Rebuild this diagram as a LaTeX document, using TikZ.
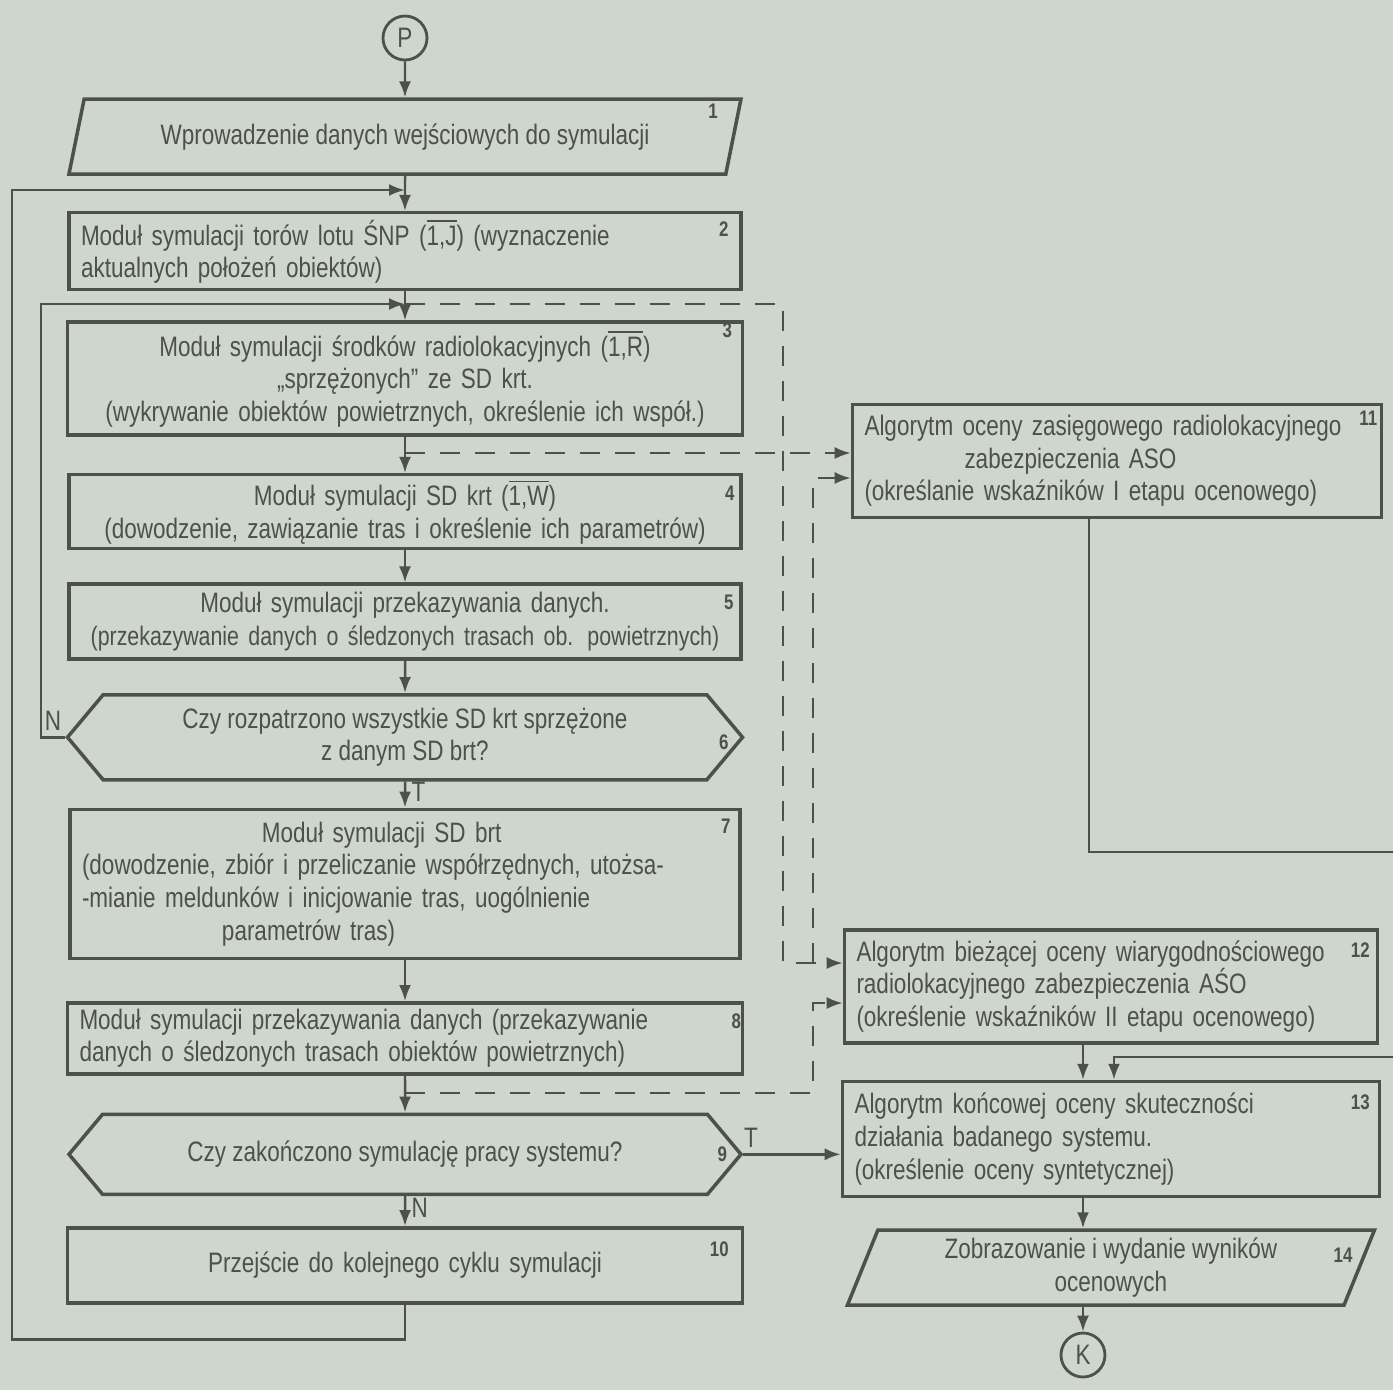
\documentclass[tikz,border=0pt]{standalone}
\usepackage{fontspec}
\setmainfont{Liberation Sans}[FakeStretch=0.8]
\usetikzlibrary{arrows.meta, positioning, shapes.geometric, shapes.symbols}
\definecolor{papier}{RGB}{206,214,206}
\definecolor{tusz}{RGB}{78,80,76}

\begin{document}
\begin{tikzpicture}[
    blok/.style={rectangle, draw=tusz, line width=1pt, inner xsep=0.12cm, inner ysep=0.03cm,
      font=\fontsize{8}{9.3}\selectfont, text=tusz, align=center},
    wej/.style={trapezium, trapezium left angle=65, trapezium right angle=115,
      trapezium stretches body, draw=tusz, line width=1pt, inner ysep=0.03cm,
      font=\fontsize{8}{9.3}\selectfont, text=tusz, align=center},
    decyzja/.style={signal, signal to=west and east, signal pointer angle=100,
      draw=tusz, line width=1pt, inner ysep=0.03cm,
      font=\fontsize{8}{9.3}\selectfont, text=tusz, align=center},
    konn/.style={circle, draw=tusz, line width=0.8pt, minimum size=0.44cm, inner sep=0pt,
      font=\fontsize{8}{9}\selectfont, text=tusz},
    nr/.style={font=\fontsize{6}{7}\selectfont\bfseries, text=tusz, inner sep=0pt},
    etyk/.style={font=\fontsize{8}{9}\selectfont, text=tusz, inner sep=1.5pt},
    lin/.style={draw=tusz, line width=0.7pt},
    arr/.style={lin, -{Latex[length=1.6mm, width=1.2mm]}},
    przer/.style={arr, dash pattern=on 0.2cm off 0.15cm}]
    \fill[papier] (0,0) rectangle (13.93,-13.90);
    \useasboundingbox (0,0) rectangle (13.93,-13.90);
    % kolumna glowna
    \node[konn](p) at (4.05,-0.38){P};
    \node[wej, minimum width=6.72cm, minimum height=0.75cm, below=0.36cm of p](b1)
      {Wprowadzenie danych wejściowych do symulacji};
    \node[blok, text width=6.48cm, align=left, minimum height=0.77cm, below=0.35cm of b1](b2)
      {Moduł symulacji torów lotu ŚNP ($\overline{\mbox{1,J}}$) (wyznaczenie\\aktualnych położeń obiektów)};
    \node[blok, text width=6.51cm, minimum height=1.13cm, below=0.29cm of b2](b3)
      {Moduł symulacji środków radiolokacyjnych ($\overline{\mbox{1,R}}$)\\„sprzężonych” ze SD krt.\\(wykrywanie obiektów powietrznych, określenie ich współ.)};
    \node[blok, text width=6.48cm, minimum height=0.74cm, below=0.36cm of b3](b4)
      {Moduł symulacji SD krt ($\overline{\mbox{1,W}}$)\\(dowodzenie, zawiązanie tras i określenie ich parametrów)};
    \node[blok, text width=6.62cm, inner xsep=0.05cm, minimum height=0.75cm, below=0.32cm of b4](b5)
      {Moduł symulacji przekazywania danych.\\{\fontsize{7.6}{9.3}\selectfont(przekazywanie danych o śledzonych trasach ob. powietrznych)}};
    \node[decyzja, minimum width=6.75cm, minimum height=0.85cm, below=0.32cm of b5](b6)
      {Czy rozpatrzono wszystkie SD krt sprzężone\\z danym SD brt?};
    \node[blok, text width=6.46cm, align=left, minimum height=1.49cm, below=0.26cm of b6](b7)
      {\hspace*{1.8cm}Moduł symulacji SD brt\\(dowodzenie, zbiór i przeliczanie współrzędnych, utożsa-\\-mianie meldunków i inicjowanie tras, uogólnienie\\\hspace*{1.4cm}parametrów tras)};
    \node[blok, text width=6.51cm, align=left, minimum height=0.71cm, below=0.41cm of b7](b8)
      {Moduł symulacji przekazywania danych (przekazywanie\\danych o śledzonych trasach obiektów powietrznych)};
    \node[decyzja, minimum width=6.72cm, minimum height=0.80cm, below=0.37cm of b8](b9)
      {Czy zakończono symulację pracy systemu?};
    \node[blok, text width=6.51cm, minimum height=0.75cm, below=0.30cm of b9](b10)
      {Przejście do kolejnego cyklu symulacji};
    % kolumna prawa
    \node[blok, text width=5.05cm, align=left, minimum height=1.13cm](b11) at (11.17,-4.61)
      {Algorytm oceny zasięgowego radiolokacyjnego\\\hspace*{1cm}zabezpieczenia ASO\\(określanie wskaźników I etapu ocenowego)};
    \node[blok, text width=5.09cm, align=left, minimum height=1.13cm](b12) at (11.11,-9.865)
      {Algorytm bieżącej oceny wiarygodnościowego\\radiolokacyjnego zabezpieczenia AŚO\\(określenie wskaźników II etapu ocenowego)};
    \node[blok, text width=5.13cm, align=left, minimum height=1.15cm, below=0.35cm of b12](b13)
      {Algorytm końcowej oceny skuteczności\\działania badanego systemu.\\(określenie oceny syntetycznej)};
    \node[wej, minimum width=5.27cm, minimum height=0.75cm, below=0.30cm of b13](b14)
      {Zobrazowanie i wydanie wyników\\ocenowych};
    \node[konn](k) at (10.83,-13.55){K};
    % numery blokow
    \node[nr](n1) at ([xshift=-0.30cm, yshift=-0.14cm]b1.top right corner){1};
    \node[nr](n2) at ([xshift=-0.19cm, yshift=-0.18cm]b2.north east){2};
    \node[nr](n3) at ([xshift=-0.17cm, yshift=-0.10cm]b3.north east){3};
    \node[nr](n4) at ([xshift=-0.13cm, yshift=-0.20cm]b4.north east){4};
    \node[nr](n5) at ([xshift=-0.14cm, yshift=-0.20cm]b5.north east){5};
    \node[nr](n6) at ([xshift=-0.21cm, yshift=-0.05cm]b6.east){6};
    \node[nr](n7) at ([xshift=-0.16cm, yshift=-0.19cm]b7.north east){7};
    \node[nr](n8) at ([xshift=-0.08cm, yshift=-0.20cm]b8.north east){8};
    \node[nr](n9) at ([xshift=-0.21cm]b9.east){9};
    \node[nr](n10) at ([xshift=-0.25cm, yshift=-0.23cm]b10.north east){10};
    \node[nr](n11) at ([xshift=-0.15cm, yshift=-0.15cm]b11.north east){11};
    \node[nr](n12) at ([xshift=-0.19cm, yshift=-0.22cm]b12.north east){12};
    \node[nr](n13) at ([xshift=-0.21cm, yshift=-0.22cm]b13.north east){13};
    \node[nr](n14) at ([xshift=-0.34cm, yshift=-0.27cm]b14.top right corner){14};
    % punkty wezlowe
    \coordinate (z1) at (4.05,-1.90);
    \coordinate (z2) at (4.05,-3.04);
    \coordinate (z3) at (4.05,-4.53);
    \coordinate (z4) at (4.05,-10.93);
    \coordinate (pw1) at (0.12,-1.90);
    \coordinate (pw2) at (0.41,-3.04);
    \coordinate (r1) at (7.83,-9.63);
    \coordinate (r2) at (8.13,-9.63);
    \coordinate (r3) at (8.13,-4.78);
    \coordinate (r4) at (8.13,-10.03);
    \coordinate (w1) at (13.93,-8.52);
    \coordinate (w2) at (13.93,-10.57);
    % przeplyw glowny
    \draw[arr](p)--(b1); \draw[arr](b1)--(b2); \draw[arr](b2)--(b3);
    \draw[arr](b3)--(b4); \draw[arr](b4)--(b5); \draw[arr](b5)--(b6);
    \draw[arr](b6)--node[etyk, right, pos=0.4](lt1){T}(b7);
    \draw[arr](b7)--(b8); \draw[arr](b8)--(b9);
    \draw[arr](b9)--node[etyk, right, pos=0.4](ln1){N}(b10);
    \draw[arr](b6.west)-|node[etyk, above, pos=0.25](ln2){N}(pw2)--(z2);
    \draw[arr](b10.south)--++(0,-0.35)-|(pw1)--(z1);
    \draw[arr](b9.east)--node[etyk, above, pos=0.08](lt2){T}(b13.west |- b9.east);
    % dane do oceny
    \draw[przer](z2)-|(r1)--(b12.west |- r1);
    \draw[przer](z3)--(b11.west |- z3);
    \draw[przer](r2)--(r3)--(b11.west |- r3);
    \draw[przer](z4)-|(r4)--(b12.west |- r4);
    % kolumna prawa
    \draw[lin]([xshift=-0.28cm]b11.south)|-(w1);
    \draw[arr](w2)-|([xshift=0.03cm]b13.north);
    \draw[arr](b12.south -| k)--(b13.north -| k);
    \draw[arr](b13.south -| k)--(b14.north -| k);
    \draw[arr](b14.south -| k)--(k);
  \end{tikzpicture}
\end{document}
